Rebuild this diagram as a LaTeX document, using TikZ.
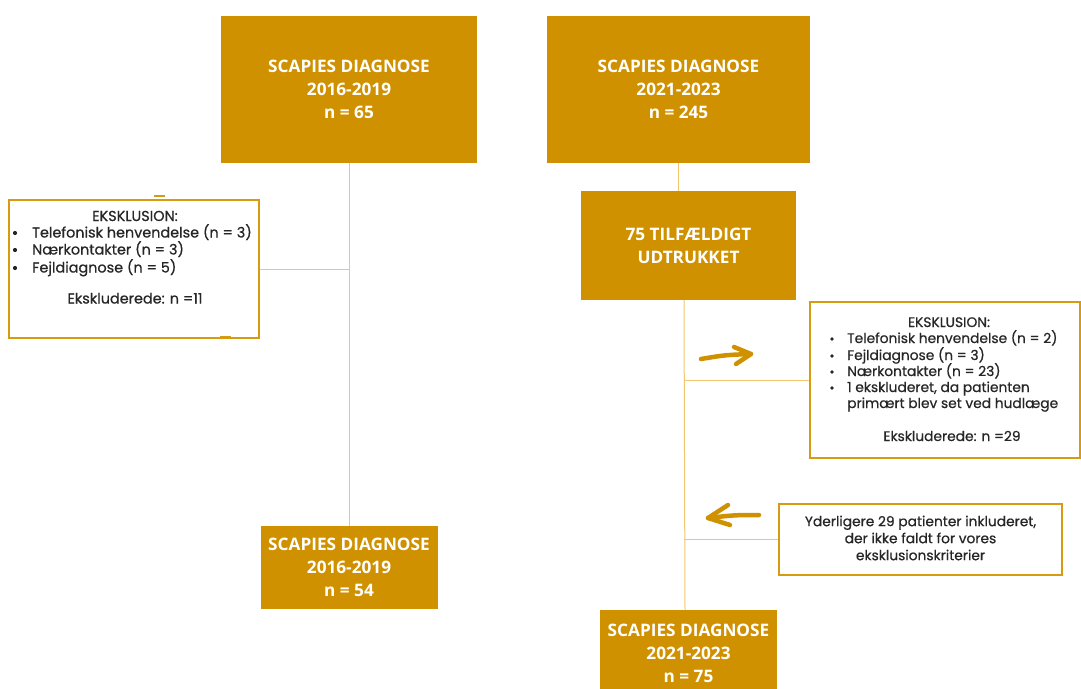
\documentclass[tikz,border=0pt]{standalone}
\usepackage{fontspec}
\setmainfont{Poppins}
\newfontfamily\smallfont[FakeBold=0.6]{Poppins}
\newfontfamily\headfont{Open Sans}
\definecolor{gold}{HTML}{D09100}
\definecolor{boxline}{HTML}{D69B12}
\definecolor{linegold}{HTML}{F2C66E}
\tikzset{
  fillbox/.style={rectangle, fill=gold, draw=none, inner sep=0pt, text=white,
    font=\headfont\bfseries\fontsize{17.2}{23}\selectfont, align=center},
  exbox/.style={rectangle, draw=boxline, line width=2pt, fill=white, inner sep=0pt},
  smalltext/.style={inner sep=0pt, text=black!85, font=\smallfont\fontsize{14.4}{17}\selectfont},
  rtext/.style={smalltext, font=\smallfont\fontsize{13.8}{17}\selectfont},
  bul/.style={circle, fill=black!85, inner sep=0pt, minimum size=4.2pt},
  conn/.style={draw=linegold, line width=1pt},
  brush/.style={draw=gold, line width=4.5pt, line cap=round, line join=round},
}
\begin{document}
\begin{tikzpicture}[x=1pt,y=-1pt]
\useasboundingbox (0,0) rectangle (1081,688);

% main boxes
\node[fillbox, minimum width=256pt, minimum height=147pt] (A) at (349,89.5)
  {SCAPIES DIAGNOSE\\2016-2019\\n = 65};
\node[fillbox, minimum width=263pt, minimum height=147pt] (B) at (678.5,89.5)
  {SCAPIES DIAGNOSE\\2021-2023\\n = 245};
\node[fillbox, minimum width=215pt, minimum height=109pt] (C) at (688.5,245.5)
  {75 TILFÆLDIGT\\UDTRUKKET};
\node[fillbox, minimum width=177pt, minimum height=83pt] (D) at (349,567.5)
  {SCAPIES DIAGNOSE\\2016-2019\\n = 54};
\node[fillbox, minimum width=177pt, minimum height=86pt] (E) at (688.5,653)
  {SCAPIES DIAGNOSE\\2021-2023\\n = 75};

% exclusion box left
\node[exbox, minimum width=250pt, minimum height=138pt] (LX) at (134,269) {};
\node[smalltext, anchor=base] (l0) at (135,221) {EKSKLUSION:};
\node[bul] (l1b) at (15,233) {};
\node[smalltext, anchor=base west] (l1) at (32,237.5) {Telefonisk henvendelse (n = 3)};
\node[bul] (l2b) at (15,250) {};
\node[smalltext, anchor=base west] (l2) at (32,254.5) {Nærkontakter (n = 3)};
\node[bul] (l3b) at (15,268) {};
\node[smalltext, anchor=base west] (l3) at (32,272.5) {Fejldiagnose (n = 5)};
\node[smalltext, anchor=base] (l4) at (135,303.5) {Ekskluderede: n =11};

% exclusion box right
\node[exbox, minimum width=270pt, minimum height=156pt] (RX) at (945,380) {};
\node[rtext, anchor=base] (r0) at (949,327) {EKSKLUSION:};
\node[bul, minimum size=3.6pt] (r1b) at (832,339) {};
\node[rtext, anchor=base west] (r1) at (847,343) {Telefonisk henvendelse (n = 2)};
\node[bul, minimum size=3.6pt] (r2b) at (832,356) {};
\node[rtext, anchor=base west] (r2) at (847,360) {Fejldiagnose (n = 3)};
\node[bul, minimum size=3.6pt] (r3b) at (832,372) {};
\node[rtext, anchor=base west] (r3) at (847,376) {Nærkontakter (n = 23)};
\node[bul, minimum size=3.6pt] (r4b) at (832,388) {};
\node[rtext, anchor=base west] (r4) at (847,392) {1 ekskluderet, da patienten};
\node[rtext, anchor=base west] (r5) at (847,408) {primært blev set ved hudlæge};
\node[rtext, anchor=base] (r6) at (952,441) {Ekskluderede: n =29};

% inclusion box
\node[exbox, minimum width=283pt, minimum height=71pt] (IN) at (920.5,539.5) {};
\node[rtext, align=center] (in) at (920.5,538)
  {Yderligere 29 patienter inkluderet,\\der ikke faldt for vores\\eksklusionskriterier};

% connectors
\coordinate (vt) at (684,300);
\coordinate (vb) at (685,610);
\draw[conn] (A.south) -- (D.north);
\draw[conn] (LX.east) -- (LX.east -| A.south);
\draw[conn] (B.south) -- (B.south |- C.north);
\draw[conn] (vt) -- (vb);
\draw[conn] (RX.west) -- (RX.west -| vt);
\draw[conn] (IN.west) -- (IN.west -| vt);

% brush arrows
\draw[brush] (701,359) .. controls (725,355) .. (751,354);
\draw[brush] (734,347) -- (751,354) -- (736,364);
\draw[brush] (759,515) .. controls (735,515) .. (708,518);
\draw[brush] (728,505) -- (708,518) -- (730,525);

% small handle marks
\draw[draw=boxline, line width=1.5pt] (154,196) -- (165,196);
\draw[draw=boxline, line width=1.5pt] (220,337) -- (231,337);
\end{tikzpicture}
\end{document}
